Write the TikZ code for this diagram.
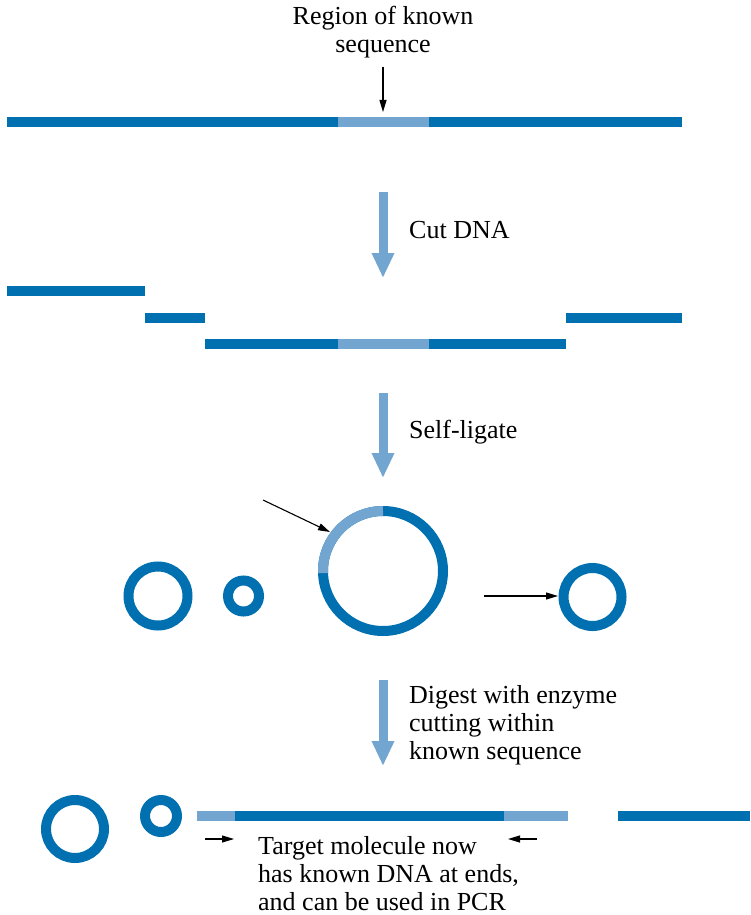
\documentclass[tikz,border=0pt]{standalone}
\usepackage{fontspec}
\setmainfont{Liberation Serif}
\usetikzlibrary{arrows.meta}
\definecolor{dnadark}{RGB}{0,112,176}
\definecolor{dnalight}{RGB}{114,165,208}
\tikzset{
  dark/.style={draw=dnadark, line width=10pt},
  light/.style={draw=dnalight, line width=10pt},
  ring/.style={draw=dnadark, line width=10pt},
  bigarrow/.style={draw=dnalight, line width=9pt, -{Triangle[width=21pt,length=25pt]}},
  pointer/.style={draw=black, line width=1.1pt, -{Triangle[width=7pt,length=12pt]}},
  note/.style={font=\fontsize{26}{28}\selectfont, inner sep=0pt},
}
\begin{document}
\begin{tikzpicture}[x=1pt,y=-1pt]
    \useasboundingbox (0,0) rectangle (750,915);

    % Starting molecule
    \draw[dark] (7,122) -- (338,122);
    \draw[light] (338,122) -- (429,122); % known region
    \draw[dark] (429,122) -- (682,122);
    \node[note, align=center, anchor=base] (region) at (383,53) {Region of known\\sequence};
    \coordinate (known) at (383,112);
    \draw[pointer] (region.south) ++(0,8) -- (known);

    % Step 1
    \coordinate (cuttop) at (383,192);
    \coordinate (cutend) at (383,278);
    \draw[bigarrow] (cuttop) -- (cutend);
    \node[note, anchor=base west] (cut) at (409,238) {Cut DNA};

    % Fragments
    \draw[dark] (7,291) -- (145,291);
    \draw[dark] (145,318) -- (205,318);
    \draw[dark] (205,344) -- (338,344);
    \draw[light] (338,344) -- (429,344);
    \draw[dark] (429,344) -- (566,344);
    \draw[dark] (566,318) -- (682,318);

    % Step 2
    \coordinate (ligtop) at (383,393);
    \coordinate (ligend) at (383,478);
    \draw[bigarrow] (ligtop) -- (ligend);
    \node[note, anchor=base west] (ligate) at (409,438) {Self-ligate};

    % Circles
    \draw[ring] (158,596) circle (29.5);
    \draw[ring] (243.5,596) circle (15.5);
    \coordinate (bigc) at (383,571);
    \draw[ring] (bigc) circle (60);
    \draw[light] (bigc) ++(178:60) arc (178:270:60); % known part
    \coordinate (tail1) at (263,500);
    \coordinate (head1) at (330,532);
    \draw[pointer] (tail1) -- (head1);
    \draw[ring] (592.5,597) circle (29);
    \coordinate (tail2) at (484,596);
    \coordinate (head2) at (558,596);
    \draw[pointer] (tail2) -- (head2);

    % Step 3
    \coordinate (digtop) at (383,680);
    \coordinate (digend) at (383,766);
    \draw[bigarrow] (digtop) -- (digend);
    \node[note, align=left, anchor=base west] (digest) at (409,759) {Digest with enzyme\\cutting within\\known sequence};

    % Products
    \draw[ring] (75,829) circle (29);
    \draw[ring] (161,816) circle (16);
    \draw[light] (197,816) -- (235,816);
    \draw[dark] (235,816) -- (504,816);
    \draw[light] (504,816) -- (568,816);
    \draw[dark] (618,816) -- (750,816);
    \node[note, align=left, anchor=base west] (target) at (258,910) {Target molecule now\\has known DNA at ends,\\and can be used in PCR};
    \coordinate (ltail) at (205,839);
    \coordinate (lhead) at (234,839);
    \draw[pointer] (ltail) -- (lhead);
    \coordinate (rtail) at (537,839);
    \coordinate (rhead) at (508,839);
    \draw[pointer] (rtail) -- (rhead);
\end{tikzpicture}
\end{document}
